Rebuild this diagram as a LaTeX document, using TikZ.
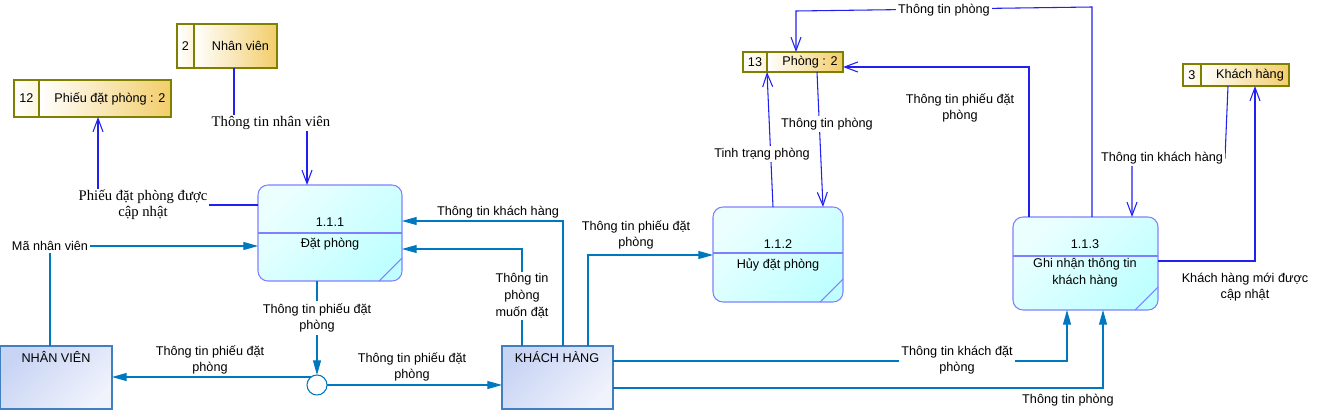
\documentclass[tikz,border=0pt]{standalone}
\usepackage{fontspec}
\setmainfont{Liberation Sans}
\newfontfamily\labelserif{Liberation Serif}
\usetikzlibrary{arrows.meta}
\definecolor{c8080ff}{RGB}{128,128,255}
\definecolor{cecffff}{RGB}{236,255,255}
\definecolor{cc0ffff}{RGB}{192,255,255}
\definecolor{c808000}{RGB}{128,128,0}
\definecolor{cf2cd6a}{RGB}{242,205,106}
\definecolor{cfdf5dc}{RGB}{253,245,220}
\definecolor{c4080c0}{RGB}{64,128,192}
\definecolor{cc8d4f4}{RGB}{200,212,244}
\definecolor{cf0f2fc}{RGB}{240,242,252}
\definecolor{c2020f0}{RGB}{32,32,240}
\definecolor{c0078c0}{RGB}{0,120,192}

\begin{document}
\begin{tikzpicture}[y=0.75pt,x=0.75pt,yscale=-1, inner sep=0pt, outer sep=0pt,
    font=\fontsize{9.5pt}{12.5pt}\selectfont,
    proc/.style={draw=c8080ff, line width=0.8pt, rounded corners=7.5pt,
      top color=cecffff, bottom color=cc0ffff, shading angle=45},
    procline/.style={draw=c8080ff, line width=0.8pt},
    entity/.style={draw=c4080c0, line width=0.8pt,
      top color=cc8d4f4, bottom color=cf0f2fc, shading angle=45},
    storenum/.style={draw=c808000, line width=0.8pt, left color=white, right color=cfdf5dc},
    storename/.style={draw=c808000, line width=0.8pt, left color=white, right color=cf2cd6a},
    storeflow/.style={draw=c2020f0, line width=0.8pt, -{Straight Barb[length=10pt,width=7.5pt]}},
    entflow/.style={draw=c0078c0, line width=0.8pt, -{Triangle[length=11pt,width=6pt]}},
    flowlabel/.style={align=center},
    coverlabel/.style={align=center, fill=white, inner sep=1.5pt},
    serlabel/.style={align=center, fill=white, inner sep=1pt,
      font=\labelserif\fontsize{11pt}{12pt}\selectfont}]
  \useasboundingbox (0,0) rectangle (1322,410);

  % processes
  \node[proc, minimum width=108pt, minimum height=72pt] (proc111) at (330,233) {};
  \draw[procline] (proc111.west) -- (proc111.east);
  \draw[procline] (proc111.east |- 0,258) -- (proc111.south -| 379,0);
  \node (text111a) at (330,222) {1.1.1};
  \node (text111b) at (330,244) {Đặt phòng};

  \node[proc, minimum width=97.5pt, minimum height=71.25pt] (proc112) at (778,254.5) {};
  \draw[procline] (proc112.west |- 0,253) -- (proc112.east |- 0,253);
  \draw[procline] (proc112.east |- 0,279) -- (proc112.south -| 820,0);
  \node (text112a) at (778,244) {1.1.2};
  \node (text112b) at (778,265) {Hủy đặt phòng};

  \node[proc, minimum width=108.75pt, minimum height=69.75pt] (proc113) at (1085.5,263.5) {};
  \draw[procline] (proc113.west |- 0,256) -- (proc113.east |- 0,256);
  \draw[procline] (proc113.east |- 0,287) -- (proc113.south -| 1135,0);
  \node (text113a) at (1085,244) {1.1.3};
  \node[align=center] (text113b) at (1085,273) {Ghi nhận thông tin\\khách hàng};

  % external entities
  \node[entity, minimum width=83.6pt, minimum height=47.25pt] (entNV) at (56.25,377.5) {};
  \node (textNV) at (56,357) {NHÂN VIÊN};
  \node[entity, minimum width=83.25pt, minimum height=47.25pt] (entKH) at (557.5,377.5) {};
  \node (textKH) at (557,357) {KHÁCH HÀNG};

  \node[draw=c0078c0, line width=0.8pt, fill=white, circle, minimum size=15pt] (junc) at (317,385) {};

  % data stores
  \node[storenum, minimum width=12.75pt, minimum height=33pt] (storeNVnum) at (185.5,46) {};
  \node[storename, minimum width=62.25pt, minimum height=33pt] (storeNV) at (235.5,46) {};
  \node (text2a) at (185.5,46) {2};
  \node (text2b) at (240.5,46) {Nhân viên};

  \node[storenum, minimum width=18.75pt, minimum height=27.75pt] (store12num) at (26.5,98.5) {};
  \node[storename, minimum width=99pt, minimum height=27.75pt] (store12) at (105,98.5) {};
  \node (text12a) at (26.5,98.5) {12};
  \node (text12b) at (110,98.5) {Phiếu đặt phòng : 2};

  \node[storenum, minimum width=18pt, minimum height=15pt] (store13num) at (755,62) {};
  \node[storename, minimum width=57pt, minimum height=15pt] (store13) at (805,62) {};
  \node (text13a) at (755,62) {13};
  \node (text13b) at (810,62) {Phòng : 2};

  \node[storenum, minimum width=13.5pt, minimum height=16.5pt] (store3num) at (1192,75) {};
  \node[storename, minimum width=66pt, minimum height=16.5pt] (store3) at (1245,75) {};
  \node (text3a) at (1192,75) {3};
  \node (text3b) at (1250,75) {Khách hàng};

  % flows round 1.1.1
  \draw[storeflow] (storeNV.south -| 234,0) |- (307,123) -- (proc111.north -| 307,0);
  \node[serlabel] (lblNhanVien) at (271,123) {Thông tin nhân viên};
  \draw[storeflow] (proc111.west |- 0,205) -| (store12.south -| 98,0);
  \node[serlabel] (lblPhieuCapNhat) at (143,205) {Phiếu đặt phòng được\\cập nhật};
  \draw[entflow] (entNV.north -| 50,0) |- (proc111.west |- 0,246);
  \node[coverlabel] (lblMaNV) at (50,246) {Mã nhân viên};
  \draw[entflow] (entKH.north -| 563,0) |- (proc111.east |- 0,221);
  \node[flowlabel] (lblKhach1) at (498,212) {Thông tin khách hàng};
  \draw[entflow] (entKH.north -| 522,0) |- (proc111.east |- 0,249);
  \node[coverlabel] (lblMuonDat) at (522,296) {Thông tin\\phòng\\muốn đặt};
  \draw[entflow] (proc111.south -| junc.north) -- (junc.north);
  \node[coverlabel] (lblPhieu1) at (317,318) {Thông tin phiếu đặt\\phòng};
  \draw[entflow] (junc.127) -- (entNV.east |- junc.127);
  \node[flowlabel] (lblPhieu2) at (210,360) {Thông tin phiếu đặt\\phòng};
  \draw[entflow] (junc.east) -- (entKH.west |- junc.east);
  \node[flowlabel] (lblPhieu3) at (412,367) {Thông tin phiếu đặt\\phòng};

  % flows round 1.1.2
  \draw[entflow] (entKH.north -| 588,0) |- (proc112.west |- 0,255);
  \node[flowlabel] (lblPhieu4) at (636,235) {Thông tin phiếu đặt\\phòng};
  \draw[storeflow] (proc112.north -| 773,0) -- (store13.south west);
  \node[coverlabel] (lblTinhTrang) at (762,154) {Tinh trạng phòng};
  \draw[storeflow] (store13.south -| 817,0) -- (proc112.north -| 823,0);
  \node[coverlabel] (lblPhong1) at (827,124) {Thông tin phòng};

  % flows round 1.1.3
  \draw[storeflow] (proc113.north -| 1092,0) -- (1092,7) -- (796,11) -- (store13.north -| 796,0);
  \node[coverlabel] (lblPhong2) at (944,10) {Thông tin phòng};
  \draw[storeflow] (proc113.north -| 1029,0) |- (store13.east |- 0,67);
  \node[flowlabel] (lblPhieu5) at (960,108) {Thông tin phiếu đặt\\phòng};
  \draw[storeflow] (store3.south -| 1228,0) -- (1225,158) -| (proc113.north -| 1132,0);
  \node[coverlabel] (lblKhach2) at (1162,158) {Thông tin khách hàng};
  \draw[storeflow] (proc113.east |- 0,261) -| (store3.south -| 1255,0);
  \node[flowlabel] (lblKhachMoi) at (1245,287) {Khách hàng mới được\\cập nhật};
  \draw[entflow] (entKH.east |- 0,361) -| (proc113.south -| 1067,0);
  \node[coverlabel] (lblKhachDat) at (957,360) {Thông tin khách đặt\\phòng};
  \draw[entflow] (entKH.east |- 0,388) -| (proc113.south -| 1103,0);
  \node[flowlabel] (lblPhong3) at (1068,400) {Thông tin phòng};

\end{tikzpicture}
\end{document}
